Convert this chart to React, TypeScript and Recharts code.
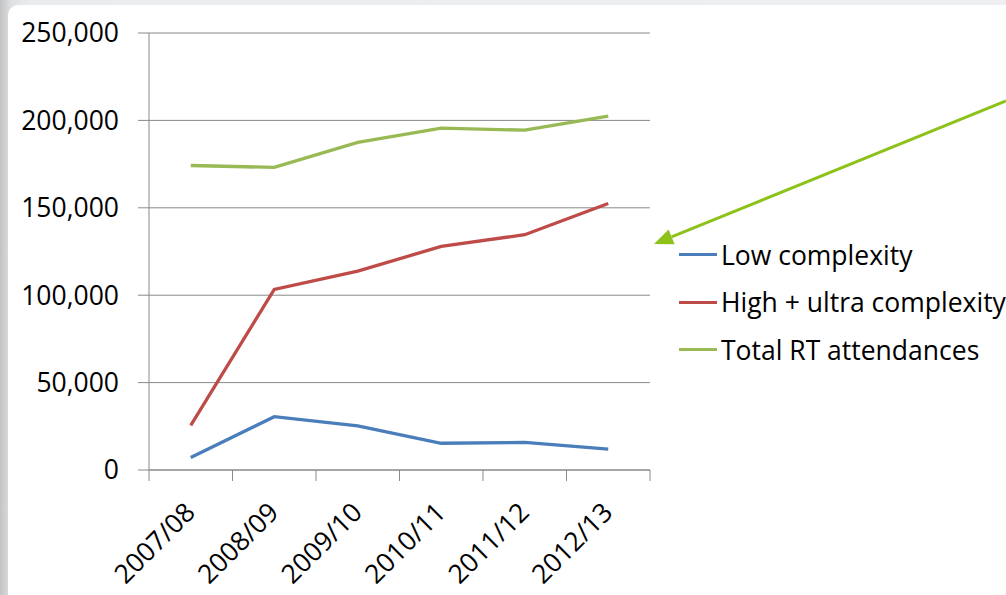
import { LineChart, Line, XAxis, YAxis, CartesianGrid } from 'recharts'

const years = ['2007/08', '2008/09', '2009/10', '2010/11', '2011/12', '2012/13']
const lowComplexity = [7200, 30500, 25200, 15300, 15800, 12000]
const highUltraComplexity = [25500, 103300, 113800, 127900, 134600, 152500]
const totalAttendances = [174200, 173100, 187400, 195600, 194400, 202400]
const yTicks = [0, 50000, 100000, 150000, 200000, 250000]

const seriesKeys = ['low', 'high', 'total']
const seriesNames = ['Low complexity', 'High + ultra complexity', 'Total RT attendances']
const seriesColors = ['#4a7ebb', '#be4b48', '#98b954']

const data = years.map((year, i) => ({
  year,
  low: lowComplexity[i],
  high: highUltraComplexity[i],
  total: totalAttendances[i],
}))

const W = 1006
const H = 595
const PLOT_LEFT = 149
const PLOT_RIGHT = 650
const PLOT_TOP = 33
const AXIS_Y = 470
const BAND = (PLOT_RIGHT - PLOT_LEFT) / years.length

const FONT = '"Open Sans", sans-serif'
const FONT_SIZE = 26.5
const AXIS_GREY = '#898989'

// category labels sit at the band centre, tick marks at the band edges
function YearTick(props: any) {
  const { x, y, payload, index } = props
  const half = BAND / 2
  const last = index === years.length - 1
  const lx = x + 6
  const ly = y + 44
  return (
    <g>
      <line x1={x - half} x2={x - half} y1={y} y2={y + 11} stroke={AXIS_GREY} />
      {last && <line x1={x + half} x2={x + half} y1={y} y2={y + 11} stroke={AXIS_GREY} />}
      <text
        x={lx}
        y={ly}
        transform={`rotate(-45, ${lx}, ${ly})`}
        textAnchor="end"
        fontFamily={FONT}
        fontSize={FONT_SIZE}
        fill="#000"
      >
        {payload.value}
      </text>
    </g>
  )
}

function Arrow() {
  const start = { x: 1006, y: 101 }
  const tip = { x: 654, y: 244 }
  const dx = tip.x - start.x
  const dy = tip.y - start.y
  const len = Math.hypot(dx, dy)
  const ux = dx / len
  const uy = dy / len
  const headLen = 19
  const headHalf = 8
  const bx = tip.x - ux * headLen
  const by = tip.y - uy * headLen
  const pts = [
    `${tip.x},${tip.y}`,
    `${bx - uy * headHalf},${by + ux * headHalf}`,
    `${bx + uy * headHalf},${by - ux * headHalf}`,
  ].join(' ')
  return (
    <svg width={W} height={H} style={{ position: 'absolute', left: 0, top: 0, pointerEvents: 'none' }}>
      <line x1={start.x} y1={start.y} x2={bx} y2={by} stroke="#8dc21a" strokeWidth={3} />
      <polygon points={pts} fill="#8dc21a" />
    </svg>
  )
}

export default function App() {
  return (
    <div
      style={{
        position: 'fixed',
        left: 0,
        top: 0,
        width: W,
        height: H,
        overflow: 'hidden',
        background: 'linear-gradient(to right, #c2c3c5, #dedfe1 1%, #ebecee 3%, #eeeff1)',
      }}
    >
      <div
        style={{
          position: 'absolute',
          left: 8,
          top: 5,
          right: 0,
          bottom: 0,
          background: '#fff',
          borderTopLeftRadius: 10,
        }}
      />
      <div style={{ position: 'absolute', left: 0, top: 0 }}>
        <LineChart
          width={W}
          height={H}
          data={data}
          margin={{ top: PLOT_TOP, right: W - PLOT_RIGHT, bottom: 0, left: 0 }}
        >
          <CartesianGrid vertical={false} stroke={AXIS_GREY} strokeWidth={1} />
          <XAxis
            dataKey="year"
            scale="band"
            height={H - AXIS_Y}
            interval={0}
            axisLine={{ stroke: AXIS_GREY }}
            tickLine={false}
            tickSize={0}
            tickMargin={0}
            tick={<YearTick />}
          />
          <YAxis
            width={PLOT_LEFT}
            domain={[0, 250000]}
            ticks={yTicks}
            interval={0}
            axisLine={{ stroke: AXIS_GREY }}
            tickLine={{ stroke: AXIS_GREY }}
            tickSize={11}
            tickMargin={19}
            tickFormatter={(v: number) => v.toLocaleString('en-US')}
            tick={{ fontFamily: FONT, fontSize: FONT_SIZE, fill: '#000' }}
          />
          {seriesKeys.map((key, i) => (
            <Line
              key={key}
              type="linear"
              dataKey={key}
              name={seriesNames[i]}
              stroke={seriesColors[i]}
              strokeWidth={3.3}
              dot={false}
              activeDot={false}
              isAnimationActive={false}
            />
          ))}
        </LineChart>
      </div>
      <div style={{ position: 'absolute', left: 679, top: 231 }}>
        {seriesNames.map((name, i) => (
          <div key={name} style={{ height: 47.5, display: 'flex', alignItems: 'center' }}>
            <div style={{ width: 38, height: 3, background: seriesColors[i], marginRight: 4 }} />
            <span style={{ fontFamily: FONT, fontSize: FONT_SIZE, color: '#000', whiteSpace: 'nowrap' }}>
              {name}
            </span>
          </div>
        ))}
      </div>
      <Arrow />
    </div>
  )
}
